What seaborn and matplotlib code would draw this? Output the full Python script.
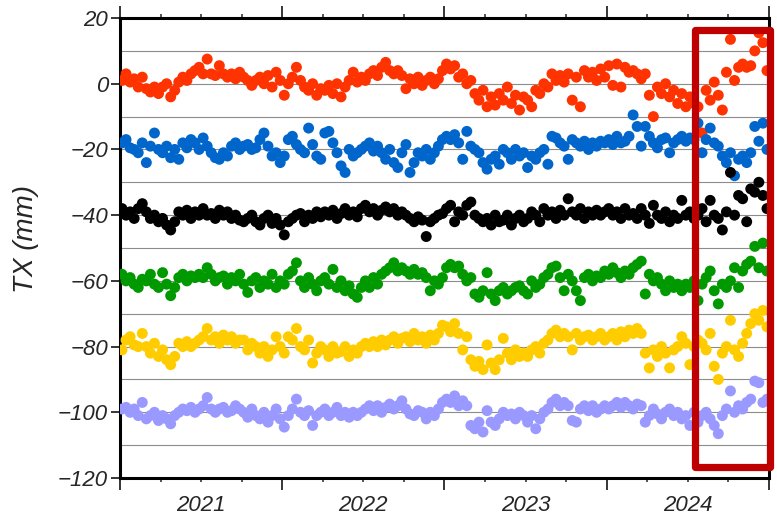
import matplotlib
matplotlib.use("Agg")
import matplotlib.pyplot as plt
import matplotlib.ticker as mticker
from matplotlib.patches import Rectangle
import numpy as np
import pandas as pd
import seaborn as sns

# epochs: one sample every 0.025 yr, 2021.0 -> 2025.0
N_EPOCHS = 160
t = 2021.0125 + 0.025 * np.arange(N_EPOCHS)

# TX (mm) per solution, already offset by -20 mm each
red = [1, 3, 0.5, 1.5, -1, 2, -1.5, -2.5, -1, -3,
       -1, 0, -4, -2, 0.5, 2, 1, 3, 4, 5,
       3, 7.5, 3, 2.5, 5.5, 3, 2, 3, 1.5, 3.5,
       2, 1, -0.5, 1, 2, 0, 2.5, -1, 3.5, 1,
       -3.5, 0, 2, 5, 1, -1, -2, 0, -3.5, -1.5,
       -2, -0.5, -3, 0, -4, -1, 1, 3.5, 0.5, 2,
       1, 3, 4, 2.5, 5, 6.5, 4, 3, 4, 2.5,
       -1.5, 1.5, 0, 2, -0.5, 1, 2, 0, 1.5, 4,
       6, 4.5, 5.5, 2, 3, 0, 1, -3, -5, -2,
       -7, -4, -6.5, -3, -5, -1, -6, -3.5, -8, -4,
       -5, -7, -2, -3, 0, -1, 3, 1, 2.5, 0.5,
       3, -5, 2, -7, 4, 2, 3.5, 1, 4.5, 2,
       5.5, -0.5, 6, -1, 5, 3.5, 4, 3, 1.5, 3,
       -3.5, -10, -1, -3, 0, -4, -2, -6, -3, -7,
       -4, -6, -7, -15, -2, -5, 0.5, -3.5, -8, 3.5,
       13.5, 1, 5, 6, 5, 5.5, 10, 15.5, 12.5, 4]

blue = [-18, -17, -19.5, -20, -21, -18, -24, -19, -15, -20,
        -21, -19, -22.5, -20, -23, -18, -19.5, -17, -18, -20,
        -16.5, -19, -21, -22.5, -23, -21, -22, -19, -18, -20,
        -19, -18.5, -20, -19.5, -17, -15, -19, -22, -21, -24,
        -22, -17, -16, -18.5, -20, -21, -13.5, -18.5, -22, -23,
        -15, -14.5, -18, -21, -25, -27, -20, -22, -21, -20,
        -19, -18, -20.5, -19, -21, -23, -20, -24, -25.5, -21,
        -18.5, -27, -24, -21, -22, -20, -23, -21, -19, -17,
        -16, -17, -15.5, -18, -23, -14.5, -19, -20, -21, -24,
        -26, -23, -22, -24.5, -20, -21, -23, -20, -22, -21,
        -25.5, -22, -23, -21, -20, -24.5, -16, -16.5, -18, -19,
        -23, -17, -18, -19, -17.5, -20, -18, -19, -17.5, -18,
        -17, -18.5, -16, -18, -17.5, -16, -9.5, -13, -19, -13,
        -16, -18, -19.5, -17, -16.5, -21, -18, -17, -16, -17.5,
        -16.5, -17, -12, -21, -17, -13.5, -18, -19, -22, -24,
        -21, -28, -23, -22, -24, -21, -13, -17.5, -12, -20]

black = [-38, -40, -39, -41, -38, -36.5, -39, -41, -40, -42,
         -41, -43, -44.5, -42, -39, -40, -38.5, -41, -39, -40,
         -38, -40, -39.5, -41, -38.5, -40, -39, -41, -40, -41.5,
         -42, -41, -40, -42, -43, -41, -40, -42.5, -41, -43,
         -46, -42, -41, -40, -39.5, -42, -40, -41, -39, -40.5,
         -39, -40, -38.5, -41, -39.5, -38, -40, -39, -40.5, -38,
         -37, -39, -38, -40, -38.5, -37.5, -39, -38, -40, -39,
         -40, -41, -42, -40.5, -41.5, -46.5, -42, -41, -40, -39.5,
         -38, -37, -42, -39, -40, -37, -36, -40, -41, -42,
         -41, -43, -40, -42, -41.5, -40, -43, -41, -40, -42,
         -41, -39, -40, -42, -38, -40, -39, -41, -38.5, -40,
         -35, -39, -40, -38, -41, -39, -40, -38.5, -40, -39,
         -38, -40, -39, -41, -38, -40, -39.5, -41, -38, -40,
         -42.5, -37, -40, -41, -39, -42, -40, -41, -35.5, -40,
         -39, -41, -40, -38, -42, -35.5, -40, -41, -44.5, -39,
         -27, -40, -34, -35, -42, -32, -33, -30, -34, -38]

green = [-58, -60, -59, -61, -62, -59.5, -60, -58, -61, -62,
         -57.5, -61, -64.5, -62, -59, -58, -60, -58.5, -59, -58,
         -59, -56, -58, -60, -59, -58.5, -61, -59, -60, -58,
         -61, -63.5, -60, -59, -62, -60, -61, -58, -62, -60,
         -61, -58, -57, -54.5, -60, -62, -59, -61, -63, -60,
         -59, -61, -56.5, -62, -60, -63, -61.5, -64, -65, -62,
         -60, -62, -59, -61, -58, -57, -56, -54.5, -57, -56,
         -57, -58, -56.5, -58, -57.5, -59, -63, -60, -61, -59,
         -56, -55, -56, -55.5, -58, -60, -59, -64, -65, -63,
         -57.5, -64, -66, -63, -62, -64, -63, -62, -61.5, -63,
         -64, -60, -62, -61, -59, -58, -56, -55.5, -59, -63,
         -58, -60, -63, -66, -59, -58, -60, -58.5, -59, -57,
         -58, -56, -57.5, -59, -57, -58, -56, -55, -54, -64,
         -58, -60, -59, -61, -63, -60, -62, -61, -63, -61,
         -62, -60, -66, -61, -59, -57, -63, -67, -61, -62,
         -60, -56, -62, -57, -55, -54, -49.5, -56, -48.5, -57]

yellow = [-81, -78, -77, -79.5, -80, -76, -80, -82, -79, -83,
          -81, -84, -85.5, -83, -79, -80, -78.5, -80, -79, -78,
          -77, -74.5, -78, -77, -79, -76.5, -78, -77, -79, -78,
          -78, -81, -79, -80, -82, -80, -83, -81, -77, -80,
          -82, -77, -78, -74.5, -80, -81, -78, -85, -82, -80,
          -81, -83, -80, -82, -81.5, -80, -83, -81, -82, -80,
          -79, -80, -78.5, -80, -78, -79.5, -78, -77, -79, -77.5,
          -77, -78.5, -76, -78, -77, -79, -76.5, -78, -76, -73.5,
          -74, -75.5, -73, -76, -81, -77, -84, -86, -84.5, -87,
          -79.5, -85, -87, -84, -77.5, -82, -84, -81, -83, -82,
          -83, -81, -80, -82, -79, -78, -76, -75, -77, -76,
          -77, -81, -76, -78, -77, -76.5, -78, -77, -76, -78,
          -77, -76, -78, -75.5, -77, -75, -76, -74.5, -76, -82,
          -86.5, -81, -83, -80, -82, -86.5, -81, -80, -77, -79,
          -85.5, -80, -78, -79, -81, -76, -86, -90, -82, -80,
          -72, -81, -83, -79, -76, -73, -70, -72, -69, -74]

lavender = [-99, -98.5, -100, -99, -101, -97, -102, -101, -100, -102.5,
            -101, -102, -103.5, -101, -100, -99, -99.5, -98.5, -100, -99,
            -98, -95.5, -99, -100, -99, -98.5, -100, -99.5, -98, -99,
            -100, -101.5, -99, -101, -102, -100, -103, -101, -99, -102,
            -104.5, -101, -99, -96, -100, -101, -99.5, -104, -101, -100,
            -99, -101, -100, -98.5, -101, -100, -101.5, -100, -101, -100,
            -99, -98, -99.5, -98, -100, -98.5, -97.5, -99, -98, -96.5,
            -99, -100.5, -101, -99.5, -100, -102, -100, -101, -99, -97,
            -96, -97, -95, -98, -96.5, -98, -104, -105, -103, -106,
            -99.5, -103, -104, -102, -100, -101, -100.5, -102, -100, -101,
            -103, -101, -105, -102, -100, -99, -97, -96, -98, -97,
            -98, -102.5, -103, -99, -98, -99.5, -98, -100, -99, -98,
            -99, -98, -97, -98.5, -97, -98, -99, -97.5, -98, -103,
            -101, -99, -100.5, -102, -100, -99, -101, -100, -102, -101,
            -104, -100, -103, -101, -100, -102, -104, -106.5, -101, -99,
            -93.5, -100, -98, -99, -97, -96, -90.5, -91, -97, -96]

series_names = ["red", "blue", "black", "green", "yellow", "lavender"]
series_colors = ["#ff3300", "#0066cc", "#000000", "#009900", "#ffcc00", "#9999ff"]
series_values = [red, blue, black, green, yellow, lavender]

df = pd.DataFrame({
    "t": np.tile(t, len(series_names)),
    "tx": np.concatenate([np.asarray(v, dtype=float) for v in series_values]),
    "series": np.repeat(series_names, N_EPOCHS),
})

sns.set_style("ticks")
plt.rcParams["font.family"] = ["Liberation Sans", "DejaVu Sans"]
plt.rcParams["font.style"] = "italic"

fig = plt.figure(figsize=(7.77, 5.18), dpi=100)
ax = fig.add_axes([0.1544, 0.0772, 0.8353, 0.888])

sns.scatterplot(data=df, x="t", y="tx", hue="series", hue_order=series_names,
                palette=dict(zip(series_names, series_colors)),
                s=62, linewidth=0, alpha=1, legend=False, ax=ax, zorder=3)

ax.set_xlim(2021, 2025)
ax.set_ylim(-120, 20)

# x: year ticks long, quarter ticks short, year label centred in the year
ax.xaxis.set_major_locator(mticker.MultipleLocator(1))
ax.xaxis.set_major_formatter(mticker.NullFormatter())
ax.xaxis.set_minor_locator(mticker.MultipleLocator(0.25))
ax.xaxis.set_minor_formatter(mticker.FuncFormatter(
    lambda v, p: f"{int(v)}" if abs(v % 1 - 0.5) < 1e-6 else ""))
ax.tick_params(axis="x", which="major", direction="out", length=8.5, width=1.3,
               top=True, bottom=True, labelbottom=False)
ax.tick_params(axis="x", which="minor", direction="out", length=3, width=1.1,
               top=True, bottom=True, labelsize=16, pad=9)

ax.yaxis.set_major_locator(mticker.MultipleLocator(20))
ax.yaxis.set_minor_locator(mticker.MultipleLocator(10))
ax.tick_params(axis="y", which="major", direction="out", length=6.5, width=1.3,
               left=True, right=False, labelsize=16, pad=2)
ax.tick_params(axis="y", which="minor", length=0)
ax.grid(axis="y", which="both", color="#8c8c8c", lw=0.8, zorder=0)
ax.set_axisbelow(True)

ax.set_xlabel("")
ax.set_ylabel("TX (mm)", fontsize=20)
ax.yaxis.set_label_coords(-0.125, 0.52)

for sp in ax.spines.values():
    sp.set_linewidth(2.2)
    sp.set_color("black")

# highlight of the last months
ax.add_patch(Rectangle((2024.546, -116.8), 0.463, 133.3, fill=False,
                       edgecolor="#c00000", lw=5.2, joinstyle="round",
                       clip_on=False, zorder=6))

fig.savefig("out.png", dpi=100)
plt.close(fig)
